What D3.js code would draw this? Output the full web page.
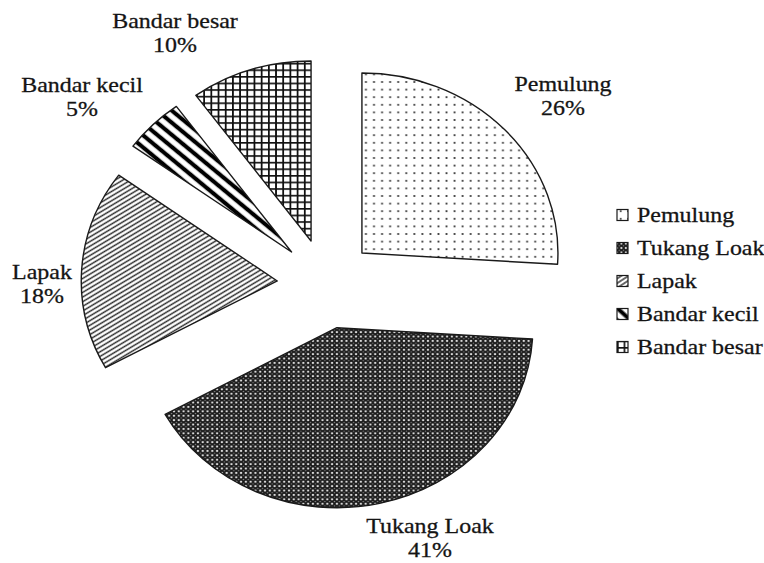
<!DOCTYPE html>
<html>
<head>
<meta charset="utf-8">
<script src="https://cdn.jsdelivr.net/npm/d3@7"></script>
<style>
  html, body { margin: 0; padding: 0; background: #fff; }
  svg { display: block; }
</style>
</head>
<body>
<svg id="chart" width="764" height="563"></svg>
<script>
// Share of actors in the collection chain (percent)
const categories = ["Pemulung", "Tukang Loak", "Lapak", "Bandar kecil", "Bandar besar"];
const shares = [26, 41, 18, 5, 10];
const shareLabels = ["26%", "41%", "18%", "5%", "10%"];
const patternIds = ["pDots", "pCheck", "pDiag", "pWide", "pGrid"];

const W = 764, H = 563;
const R = 180;          // pie radius (vertical)
const SX = 1.089;       // horizontal stretch of the whole drawing
const explode = 45;     // every slice pulled out from the centre
const cx = 326.2, cy = 283.8;
const fontSize = 22;
const FONT = "'Liberation Serif', 'DejaVu Serif', serif";

// label anchor points (centre of the two-line block) per category
const labelAt = {
  "Pemulung":     [563, 96],
  "Tukang Loak":  [430, 538],
  "Lapak":        [42, 284],
  "Bandar kecil": [82, 97],
  "Bandar besar": [175, 33]
};

const svg = d3.select("#chart");
const defs = svg.append("defs");

// dotted fill
const pDots = defs.append("pattern").attr("id", "pDots")
  .attr("patternUnits", "userSpaceOnUse").attr("width", 7.4).attr("height", 7.6);
pDots.append("rect").attr("width", 7.4).attr("height", 7.6).attr("fill", "#fff");
pDots.append("circle").attr("cx", 3.7).attr("cy", 3.8).attr("r", 1.05).attr("fill", "#333");

// dense dark lattice
const pc = 4.4;
const pCheck = defs.append("pattern").attr("id", "pCheck")
  .attr("patternUnits", "userSpaceOnUse").attr("width", pc).attr("height", pc);
pCheck.append("rect").attr("width", pc).attr("height", pc).attr("fill", "#151515");
[[0, 0], [pc, 0], [0, pc], [pc, pc]].forEach(([x, y]) =>
  pCheck.append("circle").attr("cx", x).attr("cy", y).attr("r", 1.15).attr("fill", "#d8d8d8"));
pCheck.append("circle").attr("cx", pc / 2).attr("cy", pc / 2).attr("r", 0.75).attr("fill", "#8a8a8a");

// narrow upward diagonal
const pDiag = defs.append("pattern").attr("id", "pDiag")
  .attr("patternUnits", "userSpaceOnUse").attr("width", 10).attr("height", 3.9)
  .attr("patternTransform", "rotate(-33)");
pDiag.append("rect").attr("width", 10).attr("height", 3.9).attr("fill", "#fff");
pDiag.append("line").attr("x1", 0).attr("x2", 10).attr("y1", 1.95).attr("y2", 1.95)
  .attr("stroke", "#2a2a2a").attr("stroke-width", 1.4);

// wide downward diagonal
const pWide = defs.append("pattern").attr("id", "pWide")
  .attr("patternUnits", "userSpaceOnUse").attr("width", 20).attr("height", 9)
  .attr("patternTransform", "rotate(42)");
pWide.append("rect").attr("width", 20).attr("height", 9).attr("fill", "#fff");
pWide.append("line").attr("x1", 0).attr("x2", 20).attr("y1", 4.5).attr("y2", 4.5)
  .attr("stroke", "#000").attr("stroke-width", 4);

// square grid
const gs = 6.6;
const pGrid = defs.append("pattern").attr("id", "pGrid")
  .attr("patternUnits", "userSpaceOnUse").attr("width", gs).attr("height", gs);
pGrid.append("rect").attr("width", gs).attr("height", gs).attr("fill", "#fff");
pGrid.append("path").attr("d", `M0,0.8H${gs}M0.8,0V${gs}`)
  .attr("stroke", "#111").attr("stroke-width", 1.7).attr("fill", "none");

svg.append("rect").attr("width", W).attr("height", H).attr("fill", "#fff");

// pie
const pie = d3.pie().sort(null).value(d => d.v).startAngle(0).endAngle(2 * Math.PI);
const arc = d3.arc().innerRadius(0).outerRadius(R);
const data = categories.map((c, i) => ({ c, v: shares[i], p: patternIds[i], l: shareLabels[i] }));
const arcs = pie(data);

const g = svg.append("g").attr("transform", `translate(${cx},${cy}) scale(${SX},1)`);
g.selectAll("path.slice").data(arcs).join("path")
  .attr("class", "slice")
  .attr("transform", d => {
    const a = (d.startAngle + d.endAngle) / 2;
    return `translate(${Math.sin(a) * explode},${-Math.cos(a) * explode})`;
  })
  .attr("d", arc)
  .attr("fill", d => `url(#${d.data.p})`)
  .attr("stroke", "#1a1a1a")
  .attr("stroke-width", 1.4)
  .attr("stroke-linejoin", "round")
  .attr("vector-effect", "non-scaling-stroke");

// shared look for every text
function textStyle(sel) {
  return sel.attr("font-family", FONT).attr("font-size", fontSize)
    .attr("fill", "#141414").attr("stroke", "#141414").attr("stroke-width", 0.3);
}

// data labels: category name over percentage
const lab = svg.selectAll("g.lab").data(arcs).join("g")
  .attr("class", "lab")
  .attr("transform", d => {
    const [x, y] = labelAt[d.data.c];
    return `translate(${x},${y}) scale(${SX},1)`;
  });
lab.append("text").attr("text-anchor", "middle").attr("y", -5.5)
  .call(textStyle).text(d => d.data.c);
lab.append("text").attr("text-anchor", "middle").attr("y", 19.5)
  .call(textStyle).text(d => d.data.l);

// legend
const legendY = d3.scalePoint().domain(categories).range([215, 347]);
const leg = svg.selectAll("g.leg").data(data).join("g")
  .attr("class", "leg")
  .attr("transform", d => `translate(617,${legendY(d.c)})`);
leg.append("rect").attr("x", 0).attr("y", -5.5).attr("width", 11).attr("height", 11)
  .attr("fill", d => `url(#${d.p})`).attr("stroke", "#1a1a1a").attr("stroke-width", 1.2);
leg.append("g").attr("transform", `translate(20,7) scale(${SX},1)`)
  .append("text").call(textStyle).text(d => d.c);
</script>
</body>
</html>
